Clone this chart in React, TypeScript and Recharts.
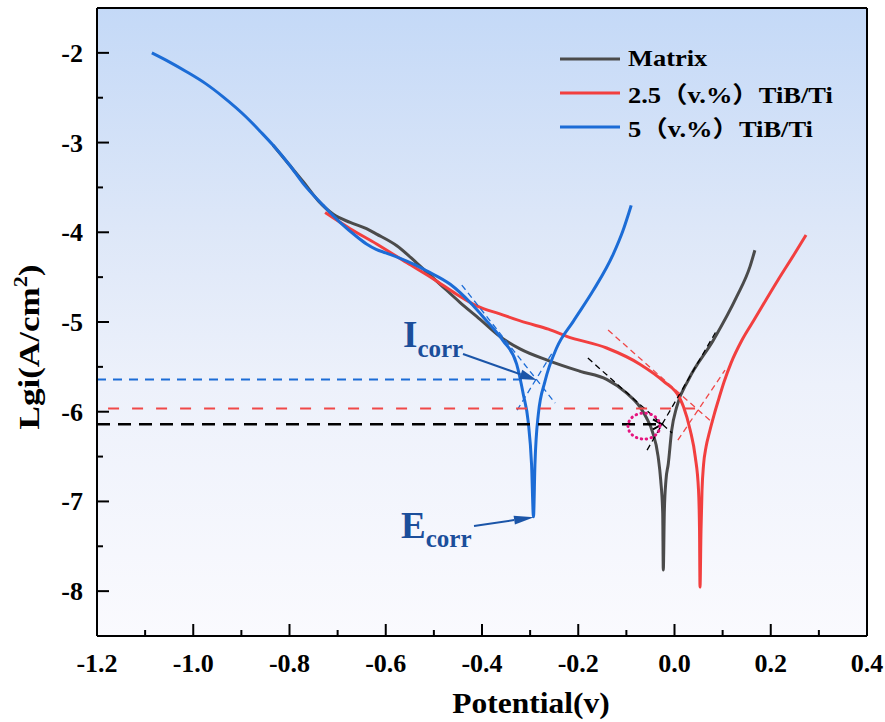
import React from 'react';
import { LineChart, Line, XAxis, YAxis, ReferenceLine, ReferenceDot, Legend } from 'recharts';

const FONT = "'Liberation Serif', 'Times New Roman', 'Noto Sans CJK SC', serif";
const NOTE_BLUE = '#1b4e9b';

// Matrix
const matrixV = [-0.834, -0.800, -0.771, -0.740, -0.709, -0.674, -0.640, -0.619, -0.577, -0.536, -0.487, -0.446, -0.404, -0.363, -0.321, -0.262, -0.196, -0.141, -0.100, -0.072, -0.058, -0.046, -0.034, -0.0287, -0.0245, -0.0233, -0.0212, -0.0177, -0.0129, -0.0058, 0.0046, 0.0287, 0.081, 0.129, 0.157, 0.167];
const matrixLgi = [-3.03, -3.25, -3.44, -3.65, -3.80, -3.89, -3.96, -4.02, -4.15, -4.34, -4.58, -4.78, -4.97, -5.16, -5.30, -5.43, -5.55, -5.64, -5.79, -5.945, -6.07, -6.22, -6.50, -6.76, -7.13, -7.765, -7.13, -6.76, -6.58, -6.205, -5.945, -5.647, -5.20, -4.72, -4.38, -4.20];

// 2.5 (v.%) TiB/Ti
const tib25V = [-0.726, -0.674, -0.619, -0.556, -0.501, -0.453, -0.411, -0.363, -0.307, -0.262, -0.224, -0.141, -0.072, -0.023, 0.011, 0.0187, 0.0327, 0.0431, 0.0499, 0.052, 0.053, 0.0551, 0.0572, 0.0603, 0.0655, 0.0727, 0.0821, 0.0925, 0.1029, 0.1174, 0.1403, 0.1652, 0.2151, 0.2504, 0.2733];
const tib25Lgi = [-3.78, -3.96, -4.13, -4.34, -4.52, -4.69, -4.82, -4.91, -5.01, -5.08, -5.16, -5.29, -5.47, -5.66, -5.85, -5.945, -6.207, -6.502, -6.873, -7.319, -7.955, -7.319, -6.873, -6.595, -6.394, -6.227, -6.037, -5.848, -5.669, -5.458, -5.201, -4.978, -4.532, -4.231, -4.031];

// 5 (v.%) TiB/Ti
const tib5V = [-1.086, -1.050, -1.014, -0.975, -0.938, -0.889, -0.860, -0.834, -0.800, -0.771, -0.730, -0.695, -0.660, -0.640, -0.620, -0.600, -0.570, -0.540, -0.515, -0.466, -0.425, -0.390, -0.356, -0.328, -0.314, -0.304, -0.297, -0.293, -0.290, -0.283, -0.269, -0.245, -0.210, -0.169, -0.127, -0.107, -0.090];
const tib5Lgi = [-2.00, -2.10, -2.21, -2.34, -2.49, -2.72, -2.88, -3.03, -3.25, -3.46, -3.70, -3.89, -4.05, -4.13, -4.19, -4.23, -4.29, -4.36, -4.43, -4.58, -4.78, -4.99, -5.21, -5.47, -5.81, -6.11, -6.59, -7.17, -6.59, -6.03, -5.66, -5.29, -4.99, -4.65, -4.24, -3.98, -3.70];

const xTicks = [-1.2, -1.1, -1.0, -0.9, -0.8, -0.7, -0.6, -0.5, -0.4, -0.3, -0.2, -0.1, 0.0, 0.1, 0.2, 0.3, 0.4];
const yTicks = [-8, -7.5, -7, -6.5, -6, -5.5, -5, -4.5, -4, -3.5, -3, -2.5, -2];

// Icorr levels: lgi, from V, to V
const matrixIcorr = [-6.14, -1.2, -0.026];
const tib25Icorr = [-5.963, -1.177, 0.053];
const tib5Icorr = [-5.64, -1.2, -0.317];

// Tafel tangents [v1, lgi1, v2, lgi2]
const matrixTafel = [[-0.180, -5.402, -0.005, -6.238], [-0.057, -6.428, 0.088, -5.090]];
const tib25Tafel = [[-0.138, -5.090, 0.080, -6.127], [0.007, -6.316, 0.105, -5.536]];
const tib5Tafel = [[-0.442, -4.588, -0.248, -5.904], [-0.327, -5.982, -0.253, -5.335]];

// annotation arrows [v1, lgi1, v2, lgi2]
const icorrArrow = [-0.4395, -5.357, -0.2863, -5.647];
const ecorrArrow = [-0.4166, -7.275, -0.2919, -7.175];
const markCircle = [-0.0634, -6.16];

const toPts = (v: number[], lgi: number[]) => v.map((x, i) => ({ v: x, lgi: lgi[i] }));

const series = [
  { name: 'Matrix', color: '#4b4b4b', data: toPts(matrixV, matrixLgi), icorr: matrixIcorr, tafel: matrixTafel, guide: '#000000', guideDash: '13 8', guideW: 2.5 },
  { name: '2.5（v.%）TiB/Ti', color: '#f23f3f', data: toPts(tib25V, tib25Lgi), icorr: tib25Icorr, tafel: tib25Tafel, guide: '#f04848', guideDash: '11 13', guideW: 2 },
  { name: '5（v.%）TiB/Ti', color: '#1c6cd6', data: toPts(tib5V, tib5Lgi), icorr: tib5Icorr, tafel: tib5Tafel, guide: '#1c6cd6', guideDash: '9 7', guideW: 2 },
];

const XTick = (props: any) => {
  const { x, y, payload } = props;
  const v = payload.value;
  const major = Math.round(v * 10) % 2 === 0;
  return (
    <g>
      <line x1={x} y1={y} x2={x} y2={y - (major ? 12 : 6)} stroke="#000" strokeWidth={2} />
      {major && (
        <text x={x} y={y + 36} textAnchor="middle" fontFamily={FONT} fontWeight="bold" fontSize={26} fill="#000">
          {v.toFixed(1)}
        </text>
      )}
    </g>
  );
};

const YTick = (props: any) => {
  const { x, y, payload } = props;
  const v = payload.value;
  const major = Number.isInteger(v);
  return (
    <g>
      <line x1={x} y1={y} x2={x + (major ? 12 : 6)} y2={y} stroke="#000" strokeWidth={2} />
      {major && (
        <text x={x - 14} y={y + 9} textAnchor="end" fontFamily={FONT} fontWeight="bold" fontSize={26} fill="#000">
          {String(v)}
        </text>
      )}
    </g>
  );
};

const arrowShape = (color: string, head: number, half: number, width: number, note?: { sym: string; dx: number; dy: number; sub: number }) => (p: any) => {
  const { x1, y1, x2, y2 } = p;
  const a = Math.atan2(y2 - y1, x2 - x1);
  const hx = x2 - head * Math.cos(a);
  const hy = y2 - head * Math.sin(a);
  const pts = `${x2},${y2} ${hx + half * Math.sin(a)},${hy - half * Math.cos(a)} ${hx - half * Math.sin(a)},${hy + half * Math.cos(a)}`;
  return (
    <g>
      <line x1={x1} y1={y1} x2={hx} y2={hy} stroke={color} strokeWidth={width} />
      <polygon points={pts} fill={color} />
      {note && (
        <text x={x1 + note.dx} y={y1 + note.dy} fontFamily={FONT} fontWeight="bold" fill={NOTE_BLUE}>
          <tspan fontSize={37}>{note.sym}</tspan>
          <tspan fontSize={25} dy={note.sub}>corr</tspan>
        </text>
      )}
    </g>
  );
};

const dashedArrowShape = (color: string, dash: string, w: number) => (p: any) => {
  const { x1, y1, x2, y2 } = p;
  return (
    <g>
      <line x1={x1} y1={y1} x2={x2 - 2} y2={y2} stroke={color} strokeWidth={w} strokeDasharray={dash} />
      <polyline points={`${x2 - 9},${y2 - 5} ${x2},${y2} ${x2 - 9},${y2 + 5}`} fill="none" stroke={color} strokeWidth={2} />
    </g>
  );
};

const LegendBox = () => (
  <div style={{ fontFamily: FONT, fontWeight: 'bold', fontSize: 23, color: '#000' }}>
    {series.map((s) => (
      <div key={s.name} style={{ display: 'flex', alignItems: 'center', height: 34 }}>
        <svg width={64} height={6}>
          <line x1={2} y1={3} x2={62} y2={3} stroke={s.color} strokeWidth={3} />
        </svg>
        <span style={{ marginLeft: 6, whiteSpace: 'nowrap', display: 'inline-block', transform: 'scaleX(1.15)', transformOrigin: 'left center' }}>{s.name}</span>
      </div>
    ))}
  </div>
);

export default function App() {
  return (
    <div style={{ position: 'absolute', left: 0, top: 0, width: 885, height: 722, background: '#fff' }}>
      <div
        style={{
          position: 'absolute',
          left: 97,
          top: 8,
          width: 770,
          height: 628,
          background: 'linear-gradient(to bottom, #c4d9f7 0%, #dde7f8 35%, #edf1fb 60%, #fafafe 100%)',
        }}
      />
      <LineChart width={885} height={722} margin={{ top: 8, right: 18, bottom: 0, left: 0 }}>
        <XAxis
          dataKey="v"
          type="number"
          domain={[-1.2, 0.4]}
          allowDataOverflow
          ticks={xTicks}
          interval={0}
          height={86}
          tickSize={0}
          tickMargin={0}
          tick={<XTick />}
          axisLine={{ stroke: '#000', strokeWidth: 2 }}
          label={{
            content: () => (
              <text transform="translate(531,713) scale(1.05,1)" textAnchor="middle" fontFamily={FONT} fontWeight="bold" fontSize={30} fill="#000">
                Potential(v)
              </text>
            ),
          }}
        />
        <YAxis
          dataKey="lgi"
          type="number"
          domain={[-8.5, -1.5]}
          allowDataOverflow
          ticks={yTicks}
          interval={0}
          width={97}
          tickSize={0}
          tickMargin={0}
          tick={<YTick />}
          axisLine={{ stroke: '#000', strokeWidth: 2 }}
          label={{
            content: () => (
              <text transform="translate(39,347) rotate(-90) scale(1.17,1)" textAnchor="middle" fontFamily={FONT} fontWeight="bold" fontSize={30} fill="#000">
                Lgi(A/cm<tspan fontSize={19} dy={-12}>2</tspan>
                <tspan dy={12}>)</tspan>
              </text>
            ),
          }}
        />
        <Legend layout="vertical" align="center" verticalAlign="middle" wrapperStyle={{ left: 558, top: 42, width: 320 }} content={<LegendBox />} />
        {series.map((s) => (
          <Line key={s.name} data={s.data} dataKey="lgi" name={s.name} type="monotone" stroke={s.color} strokeWidth={3} dot={false} isAnimationActive={false} />
        ))}
        {series.map((s) =>
          s.tafel.map((t, i) => (
            <ReferenceLine
              key={s.name + 't' + i}
              segment={[{ x: t[0], y: t[1] }, { x: t[2], y: t[3] }]}
              stroke={s.guide}
              strokeWidth={1.3}
              strokeDasharray="6 4"
            />
          ))
        )}
        {series.map((s, i) =>
          i === 0 ? (
            <ReferenceLine
              key={s.name + 'h'}
              segment={[{ x: s.icorr[1], y: s.icorr[0] }, { x: s.icorr[2], y: s.icorr[0] }]}
              shape={dashedArrowShape(s.guide, s.guideDash, s.guideW)}
            />
          ) : (
            <ReferenceLine
              key={s.name + 'h'}
              segment={[{ x: s.icorr[1], y: s.icorr[0] }, { x: s.icorr[2], y: s.icorr[0] }]}
              stroke={s.guide}
              strokeWidth={s.guideW}
              strokeDasharray={s.guideDash}
            />
          )
        )}
        <ReferenceLine
          segment={[{ x: icorrArrow[0], y: icorrArrow[1] }, { x: icorrArrow[2], y: icorrArrow[3] }]}
          shape={arrowShape('#1b55a8', 17, 5, 2, { sym: 'I', dx: -60, dy: -7, sub: 10 })}
        />
        <ReferenceLine
          segment={[{ x: ecorrArrow[0], y: ecorrArrow[1] }, { x: ecorrArrow[2], y: ecorrArrow[3] }]}
          shape={arrowShape('#1b55a8', 20, 4.5, 2, { sym: 'E', dx: -73, dy: 12, sub: 9 })}
        />
        <ReferenceDot
          x={markCircle[0]}
          y={markCircle[1]}
          shape={(p: any) => (
            <ellipse cx={p.cx} cy={p.cy} rx={16} ry={13} fill="none" stroke="#e5157f" strokeWidth={3} strokeDasharray="0.5 4.5" strokeLinecap="round" />
          )}
        />
        <ReferenceLine y={-1.5} stroke="#000" strokeWidth={2} />
        <ReferenceLine x={0.4} stroke="#000" strokeWidth={2} />
      </LineChart>
    </div>
  );
}
